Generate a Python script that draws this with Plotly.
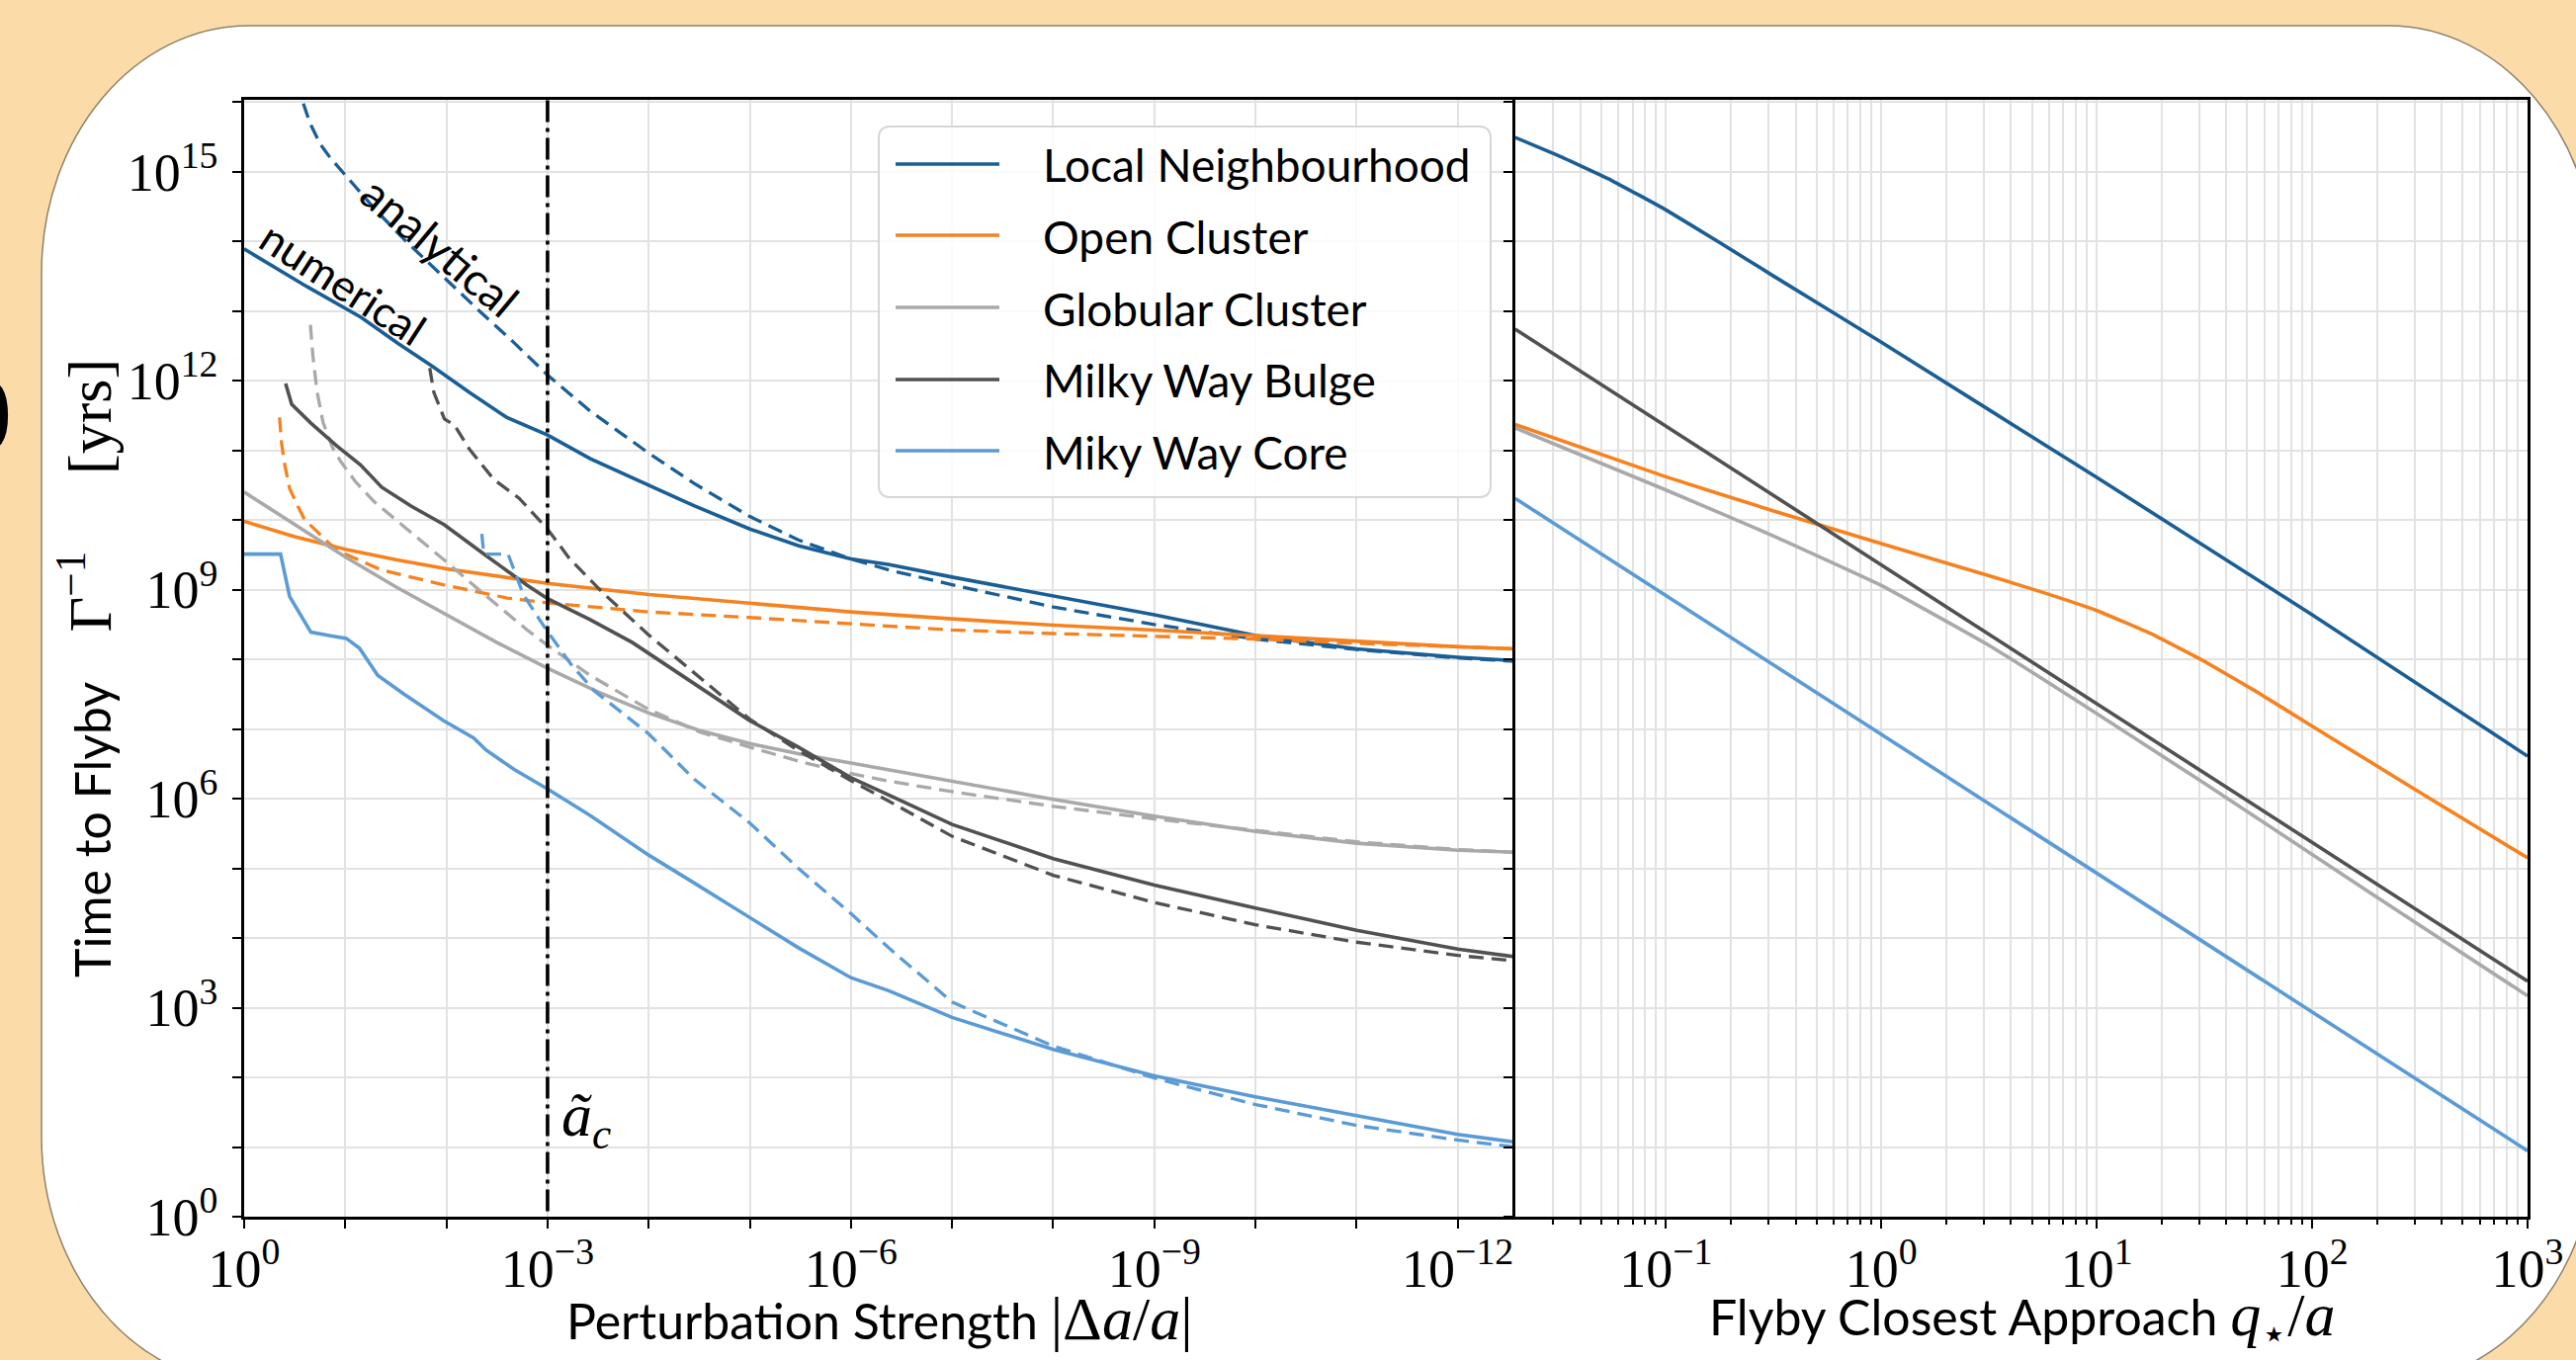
import math
import plotly.graph_objects as go

# ---------------- categories / styling names ----------------
NAMES = ["Local Neighbourhood", "Open Cluster", "Globular Cluster",
         "Milky Way Bulge", "Miky Way Core"]
COLORS = ["#1a5e96", "#f6821f", "#a9a9a9", "#515151", "#5b9bd5"]
A_C = 1e-3  # critical perturbation strength (dash-dot marker)

# ---------------- left panel data ----------------
# x stored as -log10|Δa/a| , y stored as log10(Γ^-1 / yrs)
LN_NUM_D = [0, 0.62, 1.155, 1.526, 1.856, 2.227, 2.598, 3.0, 3.423, 4.0, 4.454, 5.0,
            5.485, 6.0, 6.38, 7, 8, 9, 10, 11, 12, 12.57]
LN_NUM_T = [13.89, 13.35, 12.91, 12.53, 12.21, 11.83, 11.47, 11.22, 10.88, 10.50, 10.20,
            9.87, 9.63, 9.44, 9.36, 9.18, 8.91, 8.64, 8.34, 8.15, 8.03, 7.98]
LN_ANA_D = [0.56, 0.58, 0.65, 0.75, 0.85, 1.0, 1.3, 1.6, 2.0, 2.34, 2.65, 3.0, 3.423, 4.0,
            4.454, 5.0, 5.485, 6.0, 6.38, 7, 8, 9, 10, 11, 12, 12.57]
LN_ANA_T = [16.3, 16.0, 15.7, 15.4, 15.2, 14.95, 14.45, 14.0, 13.44, 12.98, 12.57, 12.08,
            11.56, 10.96, 10.52, 10.05, 9.71, 9.44, 9.28, 9.07, 8.75, 8.50, 8.29, 8.14,
            8.02, 7.97]

OC_NUM_D = [0, 0.5, 1.0, 1.5, 2.0, 2.5, 3.0, 4.0, 5.0, 6.0, 7, 8, 9, 10, 11, 12, 12.57]
OC_NUM_T = [9.98, 9.76, 9.58, 9.43, 9.30, 9.19, 9.09, 8.93, 8.80, 8.68, 8.58, 8.49, 8.42,
            8.34, 8.25, 8.18, 8.15]
OC_ANA_D = [0.35, 0.37, 0.40, 0.45, 0.53, 0.6, 0.71, 0.85, 1.0, 1.36, 2.0, 2.6, 3.0, 4.0,
            5.0, 6.0, 7, 8, 9, 10, 11, 12, 12.57]
OC_ANA_T = [11.47, 11.1, 10.8, 10.45, 10.2, 10.0, 9.85, 9.65, 9.51, 9.28, 9.06, 8.88,
            8.81, 8.68, 8.60, 8.51, 8.42, 8.37, 8.33, 8.29, 8.23, 8.18, 8.15]

GC_NUM_D = [0, 0.5, 1.0, 1.5, 2.0, 2.5, 3.0, 3.5, 4.0, 4.5, 5.0, 5.5, 6.0, 7, 8, 9, 10,
            11, 12, 12.57]
GC_NUM_T = [10.40, 9.93, 9.47, 9.04, 8.64, 8.24, 7.87, 7.53, 7.23, 6.98, 6.79, 6.64, 6.51,
            6.25, 5.99, 5.75, 5.53, 5.36, 5.26, 5.23]
GC_ANA_D = [0.655, 0.68, 0.72, 0.78, 0.87, 0.95, 1.1, 1.28, 1.65, 2.0, 2.4, 2.8, 3.0, 3.42,
            4.0, 4.5, 5.0, 5.5, 6.0, 6.38, 7, 8, 9, 10, 11, 12, 12.57]
GC_ANA_T = [12.80, 12.35, 11.85, 11.40, 11.05, 10.85, 10.55, 10.27, 9.82, 9.40, 8.90, 8.42,
            8.20, 7.77, 7.28, 6.96, 6.74, 6.53, 6.36, 6.25, 6.10, 5.89, 5.71, 5.54, 5.38,
            5.27, 5.23]

BG_NUM_D = [0.41, 0.47, 0.66, 0.91, 1.15, 1.36, 1.65, 1.98, 2.39, 2.80, 3.0, 3.42, 3.84,
            4.29, 4.66, 5.0, 5.48, 6.0, 6.38, 7, 8, 9, 10, 11, 12, 12.57]
BG_NUM_T = [11.96, 11.66, 11.39, 11.07, 10.79, 10.47, 10.20, 9.93, 9.49, 9.06, 8.87, 8.57,
            8.24, 7.80, 7.44, 7.12, 6.74, 6.30, 6.05, 5.63, 5.14, 4.76, 4.43, 4.11, 3.84,
            3.73]
BG_ANA_D = [1.835, 1.876, 1.98, 2.08, 2.23, 2.47, 2.72, 3.0, 3.22, 3.55, 4.0, 4.45, 5.0,
            5.48, 6.0, 6.38, 7, 8, 9, 10, 11, 12, 12.57]
BG_ANA_T = [12.18, 11.83, 11.45, 11.36, 11.01, 10.58, 10.31, 9.87, 9.44, 8.95, 8.35, 7.80,
            7.14, 6.69, 6.26, 5.96, 5.46, 4.90, 4.51, 4.19, 3.94, 3.75, 3.67]

MC_NUM_D = [0, 0.36, 0.45, 0.66, 0.84, 1.01, 1.14, 1.32, 1.58, 1.97, 2.27, 2.39, 2.67, 3.0,
            3.42, 4.0, 4.45, 5.0, 5.48, 6.0, 6.38, 7, 8, 9, 10, 11, 12, 12.57]
MC_NUM_T = [9.51, 9.51, 8.90, 8.39, 8.34, 8.30, 8.16, 7.77, 7.50, 7.12, 6.87, 6.70, 6.42,
            6.14, 5.76, 5.19, 4.79, 4.30, 3.86, 3.43, 3.24, 2.86, 2.40, 2.02, 1.72, 1.45,
            1.18, 1.07]
MC_ANA_D = [2.35, 2.37, 2.61, 2.76, 2.93, 3.0, 3.22, 3.46, 4.0, 4.45, 5.0, 5.48, 6.0, 6.38,
            7, 8, 9, 10, 11, 12, 12.57]
MC_ANA_T = [9.80, 9.51, 9.51, 8.93, 8.55, 8.40, 7.95, 7.55, 6.93, 6.28, 5.65, 5.0, 4.35,
            3.85, 3.08, 2.45, 1.99, 1.61, 1.31, 1.10, 1.0]

# ---------------- right panel data ----------------
# x stored as log10(q*/a), y as log10(Γ^-1 / yrs)
LN_R_Q = [-1.70, -1.5, -1.25, -1.0, -0.75, -0.5, 0, 1.0, 2.0, 3.0]
LN_R_T = [15.49, 15.23, 14.87, 14.45, 13.98, 13.50, 12.55, 10.61, 8.64, 6.61]
OC_R_Q = [-1.70, -1.0, -0.5, 0, 0.5, 0.75, 1.0, 1.25, 1.5, 1.75, 2.0, 2.5, 3.0]
OC_R_T = [11.37, 10.62, 10.13, 9.66, 9.20, 8.96, 8.70, 8.37, 7.97, 7.52, 7.04, 6.09, 5.15]
GC_R_Q = [-1.70, -1.0, -0.5, 0, 0.5, 1.0, 1.5, 2.0, 2.5, 3.0]
GC_R_T = [11.32, 10.43, 9.77, 9.06, 8.20, 7.22, 6.22, 5.20, 4.18, 3.17]
BG_R_Q = [-1.70, 3.0]
BG_R_T = [12.74, 3.38]
MC_R_Q = [-1.70, 3.0]
MC_R_T = [10.31, 0.945]

# ---------------- tick labels ----------------
LEFT_X_EXP = list(range(0, 13))          # 10^0 ... 10^-12
LEFT_X_LABELED = [0, 3, 6, 9, 12]
Y_EXP = list(range(0, 17))
Y_LABELED = [0, 3, 6, 9, 12, 15]
RIGHT_X_EXP = [-1, 0, 1, 2, 3]

SERIES = [
    (LN_NUM_D, LN_NUM_T, LN_ANA_D, LN_ANA_T, LN_R_Q, LN_R_T),
    (OC_NUM_D, OC_NUM_T, OC_ANA_D, OC_ANA_T, OC_R_Q, OC_R_T),
    (GC_NUM_D, GC_NUM_T, GC_ANA_D, GC_ANA_T, GC_R_Q, GC_R_T),
    (BG_NUM_D, BG_NUM_T, BG_ANA_D, BG_ANA_T, BG_R_Q, BG_R_T),
    (MC_NUM_D, MC_NUM_T, MC_ANA_D, MC_ANA_T, MC_R_Q, MC_R_T),
]

# ---------------- geometry ----------------
W, H = 2606, 1376
ML, MR, MT, MB = 247, 49, 101, 145
PW, PH = W - ML - MR, H - MT - MB
SPLIT = (1533 - ML) / PW
YTOP = 16.03
PEACH = "#FBDCA9"
SANS = "Lato"
SERIF = "Liberation Serif"
LW = 3.6
DASH = "15px,8px"


def px(x):
    return (x - ML) / PW


def py(y):
    return (MT + PH - y) / PH


fig = go.Figure()

for (nd, nt, ad, at, rq, rt), name, col in zip(SERIES, NAMES, COLORS):
    fig.add_trace(go.Scatter(x=[10 ** (-d) for d in nd], y=[10 ** t for t in nt],
                             mode="lines", line=dict(color=col, width=LW),
                             xaxis="x", yaxis="y", hoverinfo="skip", name=name))
    fig.add_trace(go.Scatter(x=[10 ** (-d) for d in ad], y=[10 ** t for t in at],
                             mode="lines", line=dict(color=col, width=LW * 0.92, dash=DASH),
                             xaxis="x", yaxis="y", hoverinfo="skip", name=name))
    fig.add_trace(go.Scatter(x=[10 ** q for q in rq], y=[10 ** t for t in rt],
                             mode="lines",
                             line=dict(color=col, width=LW, shape="spline", smoothing=0.3),
                             xaxis="x2", yaxis="y2", hoverinfo="skip", name=name))

# critical perturbation marker
fig.add_trace(go.Scatter(x=[A_C, A_C], y=[10 ** -1, 10 ** 17], mode="lines",
                         line=dict(color="black", width=3.6, dash="22px,6px,4px,6px"),
                         xaxis="x", yaxis="y", hoverinfo="skip"))

tickfont = dict(family=SERIF, size=54, color="black")


def explabel(e):
    s = str(e) if e >= 0 else "−" + str(-e)
    return "10<sup>" + s + "</sup>"


axis_common = dict(type="log", showline=True, linecolor="black", linewidth=2.5,
                   ticks="outside", ticklen=9, tickwidth=2, automargin=False,
                   tickcolor="black", showgrid=True, gridcolor="#e2e2e2", gridwidth=2,
                   zeroline=False, tickfont=tickfont)

fig.update_layout(
    width=W, height=H,
    margin=dict(l=ML, r=MR, t=MT, b=MB, pad=0, autoexpand=False),
    paper_bgcolor=PEACH, plot_bgcolor="white",
    showlegend=False,
    xaxis=dict(axis_common, domain=[0, SPLIT], range=[0, -12.57], anchor="y", mirror=True,
               tickvals=[10 ** (-k) for k in LEFT_X_EXP],
               ticktext=[explabel(-k) if k in LEFT_X_LABELED else "" for k in LEFT_X_EXP],
               ticklabelstandoff=-6),
    yaxis=dict(axis_common, domain=[0, 1], range=[0, YTOP], anchor="x", mirror=False,
               tickvals=[10 ** k for k in Y_EXP],
               ticktext=[explabel(k) if k in Y_LABELED else "" for k in Y_EXP],
               ticklabelstandoff=4),
    xaxis2=dict(axis_common, domain=[SPLIT, 1], range=[math.log10(0.02), 3], anchor="y2",
                mirror=True,
                tickvals=[10 ** k for k in RIGHT_X_EXP],
                ticktext=[explabel(k) for k in RIGHT_X_EXP],
                ticklabelstandoff=-6,
                minor=dict(ticks="outside", ticklen=5, tickwidth=1.5, tickcolor="black",
                           showgrid=True, gridcolor="#e2e2e2", gridwidth=1.5,
                           tickvals=[m * 10 ** k for k in range(-2, 3) for m in range(2, 10)
                                     if m * 10 ** k > 0.021])),
    yaxis2=dict(axis_common, domain=[0, 1], range=[0, YTOP], anchor="x2", mirror=True,
                tickvals=[10 ** k for k in Y_EXP], showticklabels=False),
)

# ---------------- white card background ----------------
x0, x1, y0, y1, rx, ry, k = 42, 2626, 26, 1400, 210, 250, 0.5523


def P(x, y):
    return f"{px(x):.5f},{py(y):.5f}"


card = (f"M{P(x0 + rx, y0)} L{P(x1 - rx, y0)} "
        f"C{P(x1 - rx + k * rx, y0)} {P(x1, y0 + ry - k * ry)} {P(x1, y0 + ry)} "
        f"L{P(x1, y1 - ry)} "
        f"C{P(x1, y1 - ry + k * ry)} {P(x1 - rx + k * rx, y1)} {P(x1 - rx, y1)} "
        f"L{P(x0 + rx, y1)} "
        f"C{P(x0 + rx - k * rx, y1)} {P(x0, y1 - ry + k * ry)} {P(x0, y1 - ry)} "
        f"L{P(x0, y0 + ry)} "
        f"C{P(x0, y0 + ry - k * ry)} {P(x0 + rx - k * rx, y0)} {P(x0 + rx, y0)} Z")
fig.add_shape(type="path", path=card, xref="paper", yref="paper", layer="below",
              fillcolor="white", line=dict(color="#8f826a", width=1.5))

# ---------------- legend (drawn manually to match matplotlib style) ----------------
lx0, lx1, ly0, ly1, lr = 889, 1508, 128, 503, 12
box = (f"M{P(lx0 + lr, ly0)} L{P(lx1 - lr, ly0)} Q{P(lx1, ly0)} {P(lx1, ly0 + lr)} "
       f"L{P(lx1, ly1 - lr)} Q{P(lx1, ly1)} {P(lx1 - lr, ly1)} "
       f"L{P(lx0 + lr, ly1)} Q{P(lx0, ly1)} {P(lx0, ly1 - lr)} "
       f"L{P(lx0, ly0 + lr)} Q{P(lx0, ly0)} {P(lx0 + lr, ly0)} Z")
fig.add_shape(type="path", path=box, xref="paper", yref="paper", layer="above",
              fillcolor="rgba(255,255,255,0.85)", line=dict(color="#d6d6d6", width=2))
row_y = [166, 238, 311, 384, 456]
for name, col, ry_ in zip(NAMES, COLORS, row_y):
    fig.add_shape(type="line", xref="paper", yref="paper", layer="above",
                  x0=px(906), x1=px(1011), y0=py(ry_), y1=py(ry_),
                  line=dict(color=col, width=LW))
    fig.add_annotation(text=name, xref="paper", yref="paper", x=px(1053), y=py(ry_ + 1),
                       xanchor="left", yanchor="middle", showarrow=False,
                       font=dict(family=SANS, size=46, color="black"))

# ---------------- text annotations ----------------
fig.add_annotation(text="analytical", xref="x", yref="y", x=-1.94, y=13.92, textangle=40,
                   showarrow=False, font=dict(family=SANS, size=46, color="black"))
fig.add_annotation(text="numerical", xref="x", yref="y", x=-0.98, y=13.4, textangle=33,
                   showarrow=False, font=dict(family=SANS, size=44, color="black"))
fig.add_annotation(text="<i>ã</i><sub><i>c</i></sub>", xref="x", yref="y",
                   x=-3.12, y=1.4, xanchor="left", yanchor="middle", showarrow=False,
                   font=dict(family=SERIF, size=62, color="black"))

# axis titles
MATH = "<span style='font-family:" + SERIF + ";font-size:62px'>"
fig.add_annotation(text="Perturbation Strength " + MATH + "|Δ<i>a</i>/<i>a</i>|</span>",
                   xref="paper", yref="paper", x=px(890), y=py(1334), showarrow=False,
                   xanchor="center", yanchor="middle",
                   font=dict(family=SANS, size=50, color="black"))
fig.add_annotation(text="Flyby Closest Approach " + MATH +
                   "<i>q</i><sub>⋆</sub>/<i>a</i></span>",
                   xref="paper", yref="paper", x=px(2045), y=py(1334), showarrow=False,
                   xanchor="center", yanchor="middle",
                   font=dict(family=SANS, size=50, color="black"))
fig.add_annotation(text="Time to Flyby\u2003 <span style='font-family:" + SERIF +
                   ";font-size:62px'>Γ<sup>−1</sup>\u2003 [yrs]</span>",
                   xref="paper", yref="paper", x=px(86), y=py(676), showarrow=False,
                   textangle=-90, xanchor="center", yanchor="middle",
                   font=dict(family=SANS, size=50, color="black"))

# partial glyph cut at the left edge of the picture
fig.add_annotation(text="<b>0</b>", xref="paper", yref="paper", x=px(14), y=py(420),
                   xanchor="right", yanchor="middle", showarrow=False,
                   font=dict(family="Liberation Sans", size=105, color="black"))

fig.write_html("out.html",
               config={"displayModeBar": False},
               post_script="document.body.style.margin='0px';"
                           "document.body.style.padding='0px';"
                           "document.body.style.overflow='hidden';")
